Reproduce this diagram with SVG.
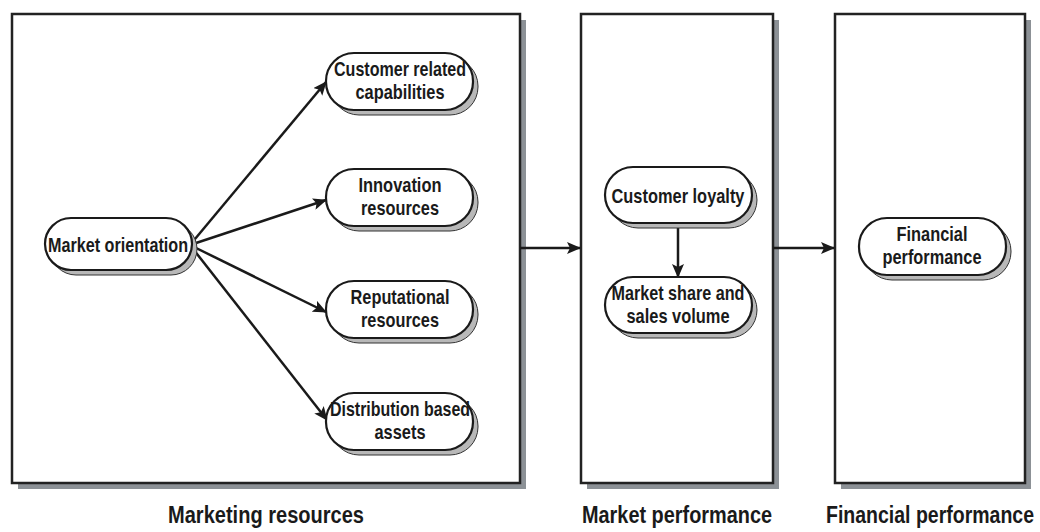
<svg xmlns="http://www.w3.org/2000/svg" width="1040" height="532" viewBox="0 0 1040 532">
<style>
.box{fill:#fff;stroke:#222;stroke-width:2.5}
.bsh{fill:#8c9196}
.node{fill:#fff;stroke:#1a1a1a;stroke-width:2.2}
.nsh{fill:#b8b8b8;stroke:#333;stroke-width:1}
.t{font-family:"Liberation Sans Narrow","Liberation Sans",Arial,sans-serif;font-weight:bold;font-size:21px;fill:#1a1a1a;text-anchor:middle}
.lbl{font-family:"Liberation Sans Narrow","Liberation Sans",Arial,sans-serif;font-weight:bold;font-size:23px;fill:#1a1a1a;text-anchor:middle}
.c{stroke:#1a1a1a;stroke-width:2.5;fill:none;marker-end:url(#ah)}
</style>
<defs>
<marker id="ah" markerWidth="14" markerHeight="12" refX="13" refY="6" orient="auto" markerUnits="userSpaceOnUse">
<path d="M0,0 L14,6 L0,12 L3,6 Z" fill="#1a1a1a"/>
</marker>
</defs>
<rect width="1040" height="532" fill="#fff"/>
<g id="box-marketing-resources">
<rect class="bsh" x="18" y="20" width="508" height="469"/>
<rect class="box" x="12" y="14" width="508" height="469"/>
<text class="lbl" x="266" y="523" textLength="196" lengthAdjust="spacingAndGlyphs">Marketing resources</text>
</g>
<g id="box-market-performance">
<rect class="bsh" x="587" y="20" width="192" height="469"/>
<rect class="box" x="581" y="14" width="192" height="469"/>
<text class="lbl" x="677" y="523" textLength="190" lengthAdjust="spacingAndGlyphs">Market performance</text>
</g>
<g id="box-financial-performance">
<rect class="bsh" x="841" y="20" width="190" height="469"/>
<rect class="box" x="835" y="14" width="190" height="469"/>
<text class="lbl" x="1034" y="523" text-anchor="end" style="text-anchor:end" textLength="208" lengthAdjust="spacingAndGlyphs">Financial performance</text>
</g>
<g id="connectors">
<line class="c" x1="190" y1="245" x2="326" y2="82"/>
<line class="c" x1="190" y1="245" x2="326" y2="200"/>
<line class="c" x1="190" y1="245" x2="326" y2="312"/>
<line class="c" x1="190" y1="245" x2="327" y2="420"/>
<line class="c" x1="678" y1="223" x2="678" y2="277"/>
<line class="c" x1="520" y1="248" x2="580" y2="248"/>
<line class="c" x1="773" y1="248" x2="834" y2="248"/>
</g>
<g id="node-market-orientation">
<rect class="nsh" x="50" y="223" width="147" height="52" rx="26" ry="26"/>
<rect class="node" x="45" y="218" width="147" height="52" rx="26" ry="26"/>
<text class="t" x="118" y="252" textLength="140" lengthAdjust="spacingAndGlyphs">Market orientation</text>
</g>
<g id="node-customer-related">
<rect class="nsh" x="331" y="58" width="147" height="57" rx="28" ry="28"/>
<rect class="node" x="326" y="53" width="147" height="57" rx="28" ry="28"/>
<text class="t" x="400" y="76" textLength="132" lengthAdjust="spacingAndGlyphs">Customer related</text>
<text class="t" x="400" y="99" textLength="89" lengthAdjust="spacingAndGlyphs">capabilities</text>
</g>
<g id="node-innovation">
<rect class="nsh" x="331" y="174" width="147" height="57" rx="28" ry="28"/>
<rect class="node" x="326" y="169" width="147" height="57" rx="28" ry="28"/>
<text class="t" x="400" y="192" textLength="83" lengthAdjust="spacingAndGlyphs">Innovation</text>
<text class="t" x="400" y="215" textLength="78" lengthAdjust="spacingAndGlyphs">resources</text>
</g>
<g id="node-reputational">
<rect class="nsh" x="331" y="286" width="147" height="57" rx="28" ry="28"/>
<rect class="node" x="326" y="281" width="147" height="57" rx="28" ry="28"/>
<text class="t" x="400" y="304" textLength="99" lengthAdjust="spacingAndGlyphs">Reputational</text>
<text class="t" x="400" y="327" textLength="78" lengthAdjust="spacingAndGlyphs">resources</text>
</g>
<g id="node-distribution">
<rect class="nsh" x="331" y="398" width="147" height="57" rx="28" ry="28"/>
<rect class="node" x="326" y="393" width="147" height="57" rx="28" ry="28"/>
<text class="t" x="400" y="416" textLength="140" lengthAdjust="spacingAndGlyphs">Distribution based</text>
<text class="t" x="400" y="439" textLength="51" lengthAdjust="spacingAndGlyphs">assets</text>
</g>
<g id="node-customer-loyalty">
<rect class="nsh" x="610" y="172" width="147" height="56" rx="28" ry="28"/>
<rect class="node" x="605" y="167" width="147" height="56" rx="28" ry="28"/>
<text class="t" x="678" y="203" textLength="133" lengthAdjust="spacingAndGlyphs">Customer loyalty</text>
</g>
<g id="node-market-share">
<rect class="nsh" x="610" y="282" width="147" height="56" rx="28" ry="28"/>
<rect class="node" x="605" y="277" width="147" height="56" rx="28" ry="28"/>
<text class="t" x="678" y="300" textLength="133" lengthAdjust="spacingAndGlyphs">Market share and</text>
<text class="t" x="678" y="323" textLength="103" lengthAdjust="spacingAndGlyphs">sales volume</text>
</g>
<g id="node-financial-performance">
<rect class="nsh" x="864" y="223" width="147" height="57" rx="28" ry="28"/>
<rect class="node" x="859" y="218" width="147" height="57" rx="28" ry="28"/>
<text class="t" x="932" y="241" textLength="71" lengthAdjust="spacingAndGlyphs">Financial</text>
<text class="t" x="932" y="264" textLength="99" lengthAdjust="spacingAndGlyphs">performance</text>
</g>
</svg>
